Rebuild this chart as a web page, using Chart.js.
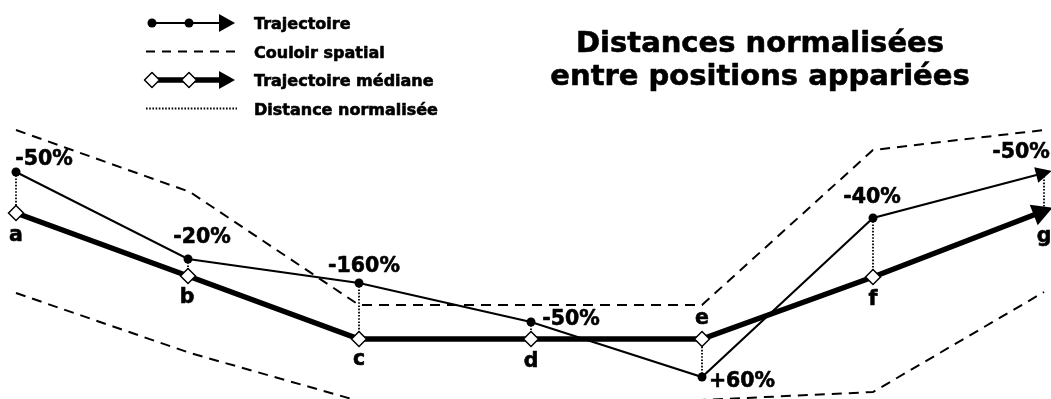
<!DOCTYPE html>
<html>
<head>
<meta charset="utf-8">
<script src="https://cdn.jsdelivr.net/npm/chart.js@4/dist/chart.umd.min.js"></script>
<style>
  html, body { margin: 0; padding: 0; background: #ffffff; }
  canvas { display: block; }
</style>
</head>
<body>
<canvas id="c" width="1051" height="399"></canvas>
<script>
// ---- Data ----
const categories = ['a', 'b', 'c', 'd', 'e', 'f', 'g'];
const positionX = [16, 188, 359, 531, 702, 873, 1044];
const trajectoireY = [172, 259, 283, 322, 377, 218, 173];
const medianeY = [213, 276, 339, 339, 339, 277, 211];
const distanceLabels = ['-50%', '-20%', '-160%', '-50%', '+60%', '-40%', '-50%'];
const couloirHautX = [16, 190, 359, 702, 873, 1044];
const couloirHautY = [130, 192, 305, 305, 150, 130];
const couloirBasX = [16, 190, 359, 531, 873, 1044];
const couloirBasY = [293, 353, 401, 408, 392, 292];
const legendLabels = ['Trajectoire', 'Couloir spatial', 'Trajectoire médiane', 'Distance normalisée'];
const titleLines = ['Distances normalisées', 'entre positions appariées'];

// ---- Build datasets from the arrays ----
const pts = (xs, ys) => xs.map((x, i) => ({ x: x, y: ys[i] }));
const distancePts = [];
positionX.forEach((x, i) => {
  distancePts.push({ x: x, y: trajectoireY[i] });
  distancePts.push({ x: x, y: medianeY[i] });
  distancePts.push({ x: x, y: null });
});
const last = categories.length - 1;

const FONT = "'DejaVu Sans', 'Liberation Sans', sans-serif";
const TEXT_STROKE = 0.6;

function heavyText(ctx, t, x, y) {
  ctx.fillText(t, x, y);
  ctx.lineWidth = TEXT_STROKE;
  ctx.strokeStyle = '#000';
  ctx.lineJoin = 'round';
  ctx.strokeText(t, x, y);
}

const decorPlugin = {
  id: 'decor',
  afterDatasetsDraw(chart, args, opts) {
    const ctx = chart.ctx;
    // Arrowheads at the end of both trajectories
    chart.data.datasets.forEach((ds, di) => {
      if (!ds.arrow) return;
      const meta = chart.getDatasetMeta(di);
      const p1 = meta.data[meta.data.length - 2];
      const p2 = meta.data[meta.data.length - 1];
      const dx = p2.x - p1.x, dy = p2.y - p1.y;
      const len = Math.hypot(dx, dy);
      const ux = dx / len, uy = dy / len;
      const a = ds.arrow;
      const tipX = p2.x + ux * a.ahead, tipY = p2.y + uy * a.ahead;
      const bX = p2.x - ux * a.behind, bY = p2.y - uy * a.behind;
      ctx.save();
      ctx.fillStyle = '#000';
      ctx.beginPath();
      ctx.moveTo(tipX, tipY);
      ctx.lineTo(bX - uy * a.half, bY + ux * a.half);
      ctx.lineTo(bX + uy * a.half, bY - ux * a.half);
      ctx.closePath();
      ctx.fill();
      ctx.restore();
    });

    const xs = chart.scales.x, ys = chart.scales.y;
    ctx.save();
    ctx.fillStyle = '#000';
    ctx.textAlign = 'center';
    ctx.textBaseline = 'middle';
    // Letters next to median points
    ctx.font = 'bold ' + opts.labelSize + 'px ' + FONT;
    categories.forEach((c, i) => {
      const o = opts.letterOffsets[i];
      heavyText(ctx, c, xs.getPixelForValue(positionX[i]) + o[0], ys.getPixelForValue(medianeY[i]) + o[1]);
    });
    // Normalised distances next to trajectory points
    distanceLabels.forEach((t, i) => {
      const o = opts.pctOffsets[i];
      heavyText(ctx, t, xs.getPixelForValue(positionX[i]) + o[0], ys.getPixelForValue(trajectoireY[i]) + o[1]);
    });
    ctx.restore();
  },
  afterDraw(chart, args, opts) {
    const ctx = chart.ctx;
    ctx.save();
    ctx.fillStyle = '#000';
    // Title
    ctx.font = 'bold ' + opts.titleSize + 'px ' + FONT;
    ctx.textAlign = 'center';
    ctx.textBaseline = 'alphabetic';
    titleLines.forEach((t, i) => heavyText(ctx, t, opts.titleX, opts.titleBase + i * opts.titleGap));

    // Legend
    const L = opts.legend;
    const x0 = L.x, x1 = L.x + L.w;
    legendLabels.forEach((lab, i) => {
      const base = L.base + i * L.gap;
      const y = base - L.symUp;
      ctx.save();
      ctx.strokeStyle = '#000';
      ctx.fillStyle = '#000';
      if (i === 0 || i === 2) {
        const lw = i === 0 ? 2 : 5.5;
        const aEnd = x1 - 2;
        ctx.lineWidth = lw;
        ctx.beginPath(); ctx.moveTo(x0 + 6, y); ctx.lineTo(aEnd - 10, y); ctx.stroke();
        ctx.beginPath();
        ctx.moveTo(aEnd, y); ctx.lineTo(aEnd - 16, y - 9); ctx.lineTo(aEnd - 16, y + 9);
        ctx.closePath(); ctx.fill();
        [x0 + 6, x0 + 43].forEach(px => {
          ctx.beginPath();
          if (i === 0) {
            ctx.arc(px, y, 4.5, 0, Math.PI * 2); ctx.fill();
          } else {
            ctx.lineWidth = 1.5;
            ctx.fillStyle = '#fff';
            ctx.moveTo(px - 7.5, y); ctx.lineTo(px, y - 7.5); ctx.lineTo(px + 7.5, y); ctx.lineTo(px, y + 7.5);
            ctx.closePath(); ctx.fill(); ctx.stroke();
            ctx.fillStyle = '#000';
          }
        });
      } else if (i === 1) {
        ctx.lineWidth = 2; ctx.setLineDash([9, 7]);
        ctx.beginPath(); ctx.moveTo(x0, y); ctx.lineTo(x1, y); ctx.stroke();
      } else {
        ctx.lineWidth = 1.8; ctx.setLineDash([1.6, 1.6]);
        ctx.beginPath(); ctx.moveTo(x0, y); ctx.lineTo(x1, y); ctx.stroke();
      }
      ctx.restore();
      ctx.font = 'bold ' + L.size + 'px ' + FONT;
      ctx.textAlign = 'left';
      ctx.textBaseline = 'alphabetic';
      heavyText(ctx, lab, L.textX, base);
    });
    ctx.restore();
  }
};

new Chart(document.getElementById('c'), {
  type: 'scatter',
  data: {
    datasets: [
      {
        label: legendLabels[2],
        data: pts(positionX, medianeY),
        showLine: true,
        borderColor: '#000',
        borderWidth: 5.5,
        pointStyle: 'rectRot',
        pointRadius: ctx => (ctx.dataIndex === last ? 0 : 7.5),
        pointBackgroundColor: '#fff',
        pointBorderColor: '#000',
        pointBorderWidth: 1.5,
        arrow: { ahead: 9, behind: 11, half: 11 },
        order: 0
      },
      {
        label: legendLabels[0],
        data: pts(positionX, trajectoireY),
        showLine: true,
        borderColor: '#000',
        borderWidth: 2,
        pointStyle: 'circle',
        pointRadius: ctx => (ctx.dataIndex === last ? 0 : 4.5),
        pointBackgroundColor: '#000',
        pointBorderColor: '#000',
        pointBorderWidth: 0,
        arrow: { ahead: 8, behind: 8, half: 8 },
        order: 1
      },
      {
        label: legendLabels[3],
        data: distancePts,
        showLine: true,
        spanGaps: false,
        borderColor: '#000',
        borderWidth: 1.8,
        borderDash: [1.6, 1.6],
        pointRadius: 0,
        order: 2
      },
      {
        label: legendLabels[1],
        data: pts(couloirHautX, couloirHautY),
        showLine: true,
        borderColor: '#000',
        borderWidth: 2,
        borderDash: [10, 7],
        pointRadius: 0,
        order: 3
      },
      {
        label: legendLabels[1],
        data: pts(couloirBasX, couloirBasY),
        showLine: true,
        borderColor: '#000',
        borderWidth: 2,
        borderDash: [10, 7],
        pointRadius: 0,
        order: 3
      }
    ]
  },
  options: {
    responsive: false,
    animation: false,
    clip: false,
    layout: { padding: 0, autoPadding: false },
    scales: {
      x: { type: 'linear', min: 0, max: 1051, display: false },
      y: { type: 'linear', min: 0, max: 399, reverse: true, display: false }
    },
    plugins: {
      legend: { display: false },
      tooltip: { enabled: false },
      decor: {
        labelSize: 20.5,
        letterOffsets: [[0, 23], [-1, 22], [0, 21], [0, 23], [0, -20], [0, 23], [0, 26]],
        pctOffsets: [[28, -12], [14, -21], [5, -16], [40, -2], [40, 5], [-1, -20], [-23, -20]],
        titleSize: 29,
        titleX: 760,
        titleBase: 52,
        titleGap: 33,
        legend: { x: 146, w: 91, base: 29, gap: 28.5, symUp: 6, textX: 254, size: 16 }
      }
    }
  },
  plugins: [decorPlugin]
});
</script>
</body>
</html>
